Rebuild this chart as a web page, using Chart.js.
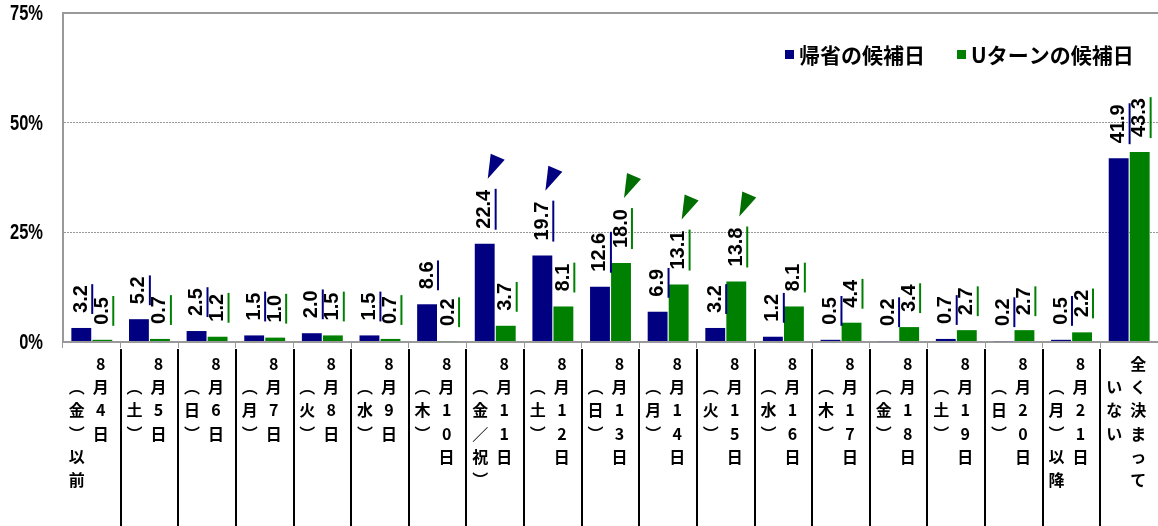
<!DOCTYPE html>
<html>
<head>
  <meta charset="utf-8">
  <title>帰省・Uターンの候補日</title>
  <script src="https://cdn.jsdelivr.net/npm/chart.js"></script>
  <style>
    body { margin: 0; background: #fff; overflow: hidden; }
    #wrap { width: 1158px; height: 526px; }
  </style>
</head>
<body>
  <div id="wrap"><canvas id="myChart"></canvas></div>
  <script>
    // date column (right) and weekday column (left) of each vertical label
    const dateLines = ['8月4日', '8月5日', '8月6日', '8月7日', '8月8日', '8月9日', '8月10日', '8月11日', '8月12日',
      '8月13日', '8月14日', '8月15日', '8月16日', '8月17日', '8月18日', '8月19日', '8月20日', '8月21日', '全く決まって'];
    const dayLines = ['（金）以前', '（土）', '（日）', '（月）', '（火）', '（水）', '（木）', '（金／祝）', '（土）',
      '（日）', '（月）', '（火）', '（水）', '（木）', '（金）', '（土）', '（日）', '（月）以降', 'いない'];

    const seriesNames = ['帰省の候補日', 'Uターンの候補日'];
    const homeValues = [3.2, 5.2, 2.5, 1.5, 2.0, 1.5, 8.6, 22.4, 19.7, 12.6, 6.9, 3.2, 1.2, 0.5, 0.2, 0.7, 0.2, 0.5, 41.9];
    const returnValues = [0.5, 0.7, 1.2, 1.0, 1.5, 0.7, 0.2, 3.7, 8.1, 18.0, 13.1, 13.8, 8.1, 4.4, 3.4, 2.7, 2.7, 2.2, 43.3];

    // bars flagged with a triangle marker, per series
    const homePeaks = [7, 8];
    const returnPeaks = [9, 10, 11];

    const yTicks = [0, 25, 50, 75];

    const NAVY = '#000080';
    const GREEN = '#008000';
    const AXIS = '#999999';
    const JP = '"Noto Sans CJK JP", sans-serif';
    const NUM = '"Liberation Sans", Arial, sans-serif';

    const verticalForm = { '（': '︵', '）': '︶' };

    // narrow percent labels on the value axis
    const percentLabels = {
      id: 'percentLabels',
      afterDraw(chart) {
        const ctx = chart.ctx;
        const y = chart.scales.y;
        ctx.save();
        ctx.fillStyle = '#000';
        ctx.font = 'bold 22px ' + NUM;
        ctx.textAlign = 'right';
        ctx.textBaseline = 'middle';
        y.ticks.forEach(t => {
          ctx.save();
          ctx.translate(43, y.getPixelForValue(t.value) + 1);
          ctx.scale(0.75, 1);
          ctx.fillText(t.value + '%', 0, 0);
          ctx.restore();
        });
        ctx.restore();
      }
    };

    // vertical two-column category labels plus separators under the axis
    const categoryLabels = {
      id: 'categoryLabels',
      afterDraw(chart) {
        const ctx = chart.ctx;
        const x = chart.scales.x;
        const area = chart.chartArea;
        ctx.save();
        ctx.strokeStyle = '#000';
        ctx.lineWidth = 2;
        for (let i = 1; i < chart.data.labels.length; i++) {
          const bx = Math.round((x.getPixelForValue(i - 1) + x.getPixelForValue(i)) / 2);
          ctx.beginPath();
          ctx.moveTo(bx, area.bottom + 7);
          ctx.lineTo(bx, chart.height);
          ctx.stroke();
        }
        ctx.fillStyle = '#000';
        ctx.font = 'bold 16px ' + JP;
        ctx.textAlign = 'center';
        ctx.textBaseline = 'middle';
        chart.data.labels.forEach((lines, i) => {
          const cx = x.getPixelForValue(i);
          [...lines[0]].forEach((ch, r) => {
            ctx.fillText(verticalForm[ch] || ch, cx + 9, 364 + r * 23.2);
          });
          [...lines[1]].forEach((ch, r) => {
            ctx.fillText(verticalForm[ch] || ch, cx - 15, 364 + (r + 1) * 23.2);
          });
        });
        ctx.restore();
      }
    };

    // rotated value labels with a coloured rule, and the peak markers
    const valueLabels = {
      id: 'valueLabels',
      afterDatasetsDraw(chart) {
        const ctx = chart.ctx;
        ctx.save();
        ctx.font = 'bold 20px ' + NUM;
        chart.data.datasets.forEach((ds, di) => {
          const meta = chart.getDatasetMeta(di);
          meta.data.forEach((bar, i) => {
            const text = ds.data[i].toFixed(1);
            const w = ctx.measureText(text).width;
            const base = bar.y - 15;
            ctx.save();
            ctx.translate(bar.x, base);
            ctx.rotate(-Math.PI / 2);
            ctx.fillStyle = '#000';
            ctx.textAlign = 'left';
            ctx.textBaseline = 'middle';
            ctx.fillText(text, 0, 0);
            ctx.restore();
            const rx = bar.x + bar.width / 2 + 1;
            ctx.strokeStyle = ds.backgroundColor;
            ctx.lineWidth = 2;
            ctx.beginPath();
            ctx.moveTo(rx, base + 1);
            ctx.lineTo(rx, base - w - 1);
            ctx.stroke();
            if (ds.peaks.includes(i)) {
              const tx = bar.x + 3;
              const ty = base - w - 11;
              ctx.fillStyle = ds.markerColor;
              ctx.beginPath();
              ctx.moveTo(tx, ty);
              ctx.lineTo(tx + 3, ty - 25);
              ctx.lineTo(tx + 17, ty - 19);
              ctx.closePath();
              ctx.fill();
            }
          });
        });
        ctx.restore();
      }
    };

    // legend in the upper right of the plot
    const legendBox = {
      id: 'legendBox',
      afterDraw(chart) {
        const ctx = chart.ctx;
        ctx.save();
        ctx.font = 'bold 21px ' + JP;
        ctx.textBaseline = 'middle';
        let lx = 785;
        chart.data.datasets.forEach(ds => {
          ctx.fillStyle = ds.backgroundColor;
          ctx.fillRect(lx, 50, 9, 9);
          ctx.fillStyle = '#000';
          ctx.fillText(ds.label, lx + 14, 55);
          lx += 14 + ctx.measureText(ds.label).width + 32;
        });
        ctx.restore();
      }
    };

    const ctx = document.getElementById('myChart').getContext('2d');
    new Chart(ctx, {
      type: 'bar',
      data: {
        labels: dateLines.map((d, i) => [d, dayLines[i]]),
        datasets: [
          {
            label: seriesNames[0],
            data: homeValues,
            backgroundColor: NAVY,
            markerColor: NAVY,
            peaks: homePeaks,
            categoryPercentage: 0.73,
            barPercentage: 0.945
          },
          {
            label: seriesNames[1],
            data: returnValues,
            backgroundColor: GREEN,
            markerColor: '#006e00',
            peaks: returnPeaks,
            categoryPercentage: 0.73,
            barPercentage: 0.945
          }
        ]
      },
      options: {
        responsive: true,
        maintainAspectRatio: false,
        animation: false,
        layout: { padding: { top: 13, right: -3, left: 0, bottom: 0 } },
        plugins: {
          legend: { display: false },
          tooltip: { enabled: false }
        },
        scales: {
          x: {
            ticks: { display: false },
            grid: {
              drawOnChartArea: false,
              drawTicks: true,
              tickLength: 6,
              color: AXIS,
              lineWidth: 1
            },
            border: { display: true, color: AXIS, width: 2 },
            afterFit(scale) { scale.height = 184; }
          },
          y: {
            min: yTicks[0],
            max: yTicks[yTicks.length - 1],
            afterBuildTicks(scale) { scale.ticks = yTicks.map(v => ({ value: v })); },
            ticks: { display: false },
            grid: {
              drawTicks: false,
              color: AXIS,
              lineWidth: c => (c.tick.value === 0 || c.tick.value === 75) ? 2 : 1
            },
            border: {
              display: true,
              color: AXIS,
              width: 2,
              dash: c => (c.tick && (c.tick.value === 25 || c.tick.value === 50)) ? [2, 1] : []
            },
            afterFit(scale) { scale.width = 63; }
          }
        }
      },
      plugins: [percentLabels, categoryLabels, valueLabels, legendBox]
    });
  </script>
</body>
</html>
